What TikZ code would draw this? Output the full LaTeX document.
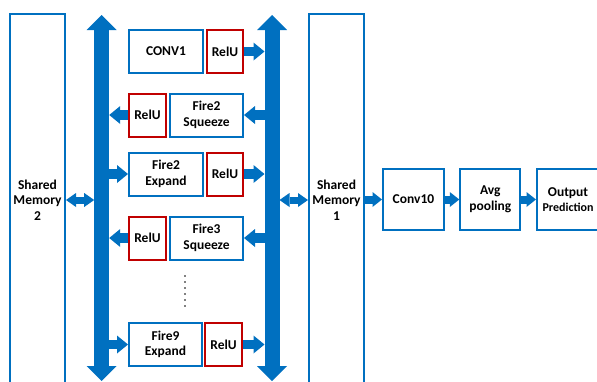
\documentclass[tikz,border=0pt]{standalone}
\usepackage{fontspec}
\setmainfont{Carlito}
\usetikzlibrary{arrows.meta}
\definecolor{myblue}{HTML}{0070C0}
\definecolor{myred}{HTML}{C00000}
\begin{document}
\begin{tikzpicture}[x=1pt,y=-1pt,
  txt/.style={font=\fontsize{13.5}{15.5}\selectfont\bfseries, align=center, text=black},
  bbox/.style={txt, draw=myblue, line width=2pt, inner sep=0pt, minimum height=43pt},
  rbox/.style={txt, draw=myred, line width=2pt, inner sep=0pt, minimum height=43pt, minimum width=36pt},
  mem/.style={txt, draw=myblue, line width=2pt, inner sep=0pt, minimum width=55pt, minimum height=372pt},
  obox/.style={txt, draw=myblue, line width=2pt, inner sep=0pt, minimum width=61pt, minimum height=61pt},
  bus/.style={myblue, line width=15pt, {Triangle[length=15pt,width=30pt,line width=0pt]}-{Triangle[length=15pt,width=30pt,line width=0pt]}},
  sarrow/.style={myblue, line width=9.5pt, -{Triangle[length=11pt,width=18pt,line width=0pt]}},
  darrow/.style={myblue, line width=7pt, {Triangle[length=10pt,width=14pt,line width=0pt]}-{Triangle[length=10pt,width=14pt,line width=0pt]}},
  harrow/.style={myblue, line width=8pt, -{Triangle[length=9.5pt,width=15pt,line width=0pt]}}
]
\useasboundingbox (0,0) rectangle (597,381);

% shared memories
\node[mem] (sm2) at (37.5,200) {Shared\\Memory\\2};
\node[mem] (sm1) at (336.5,200) {Shared\\Memory\\1};

% buses
\coordinate (lbtop) at (101.7,15);
\coordinate (lbbot) at (101.7,381);
\coordinate (rbtop) at (272,15);
\coordinate (rbbot) at (272,381);
\coordinate (lbl) at (94.2,0);
\coordinate (lbr) at (109.2,0);
\coordinate (rbl) at (264.5,0);
\coordinate (rbr) at (279.5,0);
\draw[bus] (lbtop) -- (lbbot);
\draw[bus] (rbtop) -- (rbbot);

% layer boxes
\node[bbox, minimum width=74pt] (conv1) at (166,51.5) {CONV1};
\node[rbox] (relu1) at (225,51.5) {RelU};
\node[rbox, minimum width=37pt] (relu2) at (147.5,115) {RelU};
\node[bbox, minimum width=73pt] (sq2) at (206.5,115) {Fire2\\Squeeze};
\node[bbox, minimum width=74pt] (ex2) at (166,174) {Fire2\\Expand};
\node[rbox] (relu3) at (225,174) {RelU};
\node[rbox, minimum width=37pt] (relu4) at (147.5,238) {RelU};
\node[bbox, minimum width=73pt] (sq3) at (206.5,238) {Fire3\\Squeeze};
\node[bbox, minimum width=73pt] (ex9) at (165.5,344.5) {Fire9\\Expand};
\node[rbox, minimum width=37pt] (relu5) at (223.5,344.5) {RelU};

% dots
\foreach \yy in {276,282,288,294,300,306} \fill (185,\yy) circle (0.9pt);

% output chain
\node[obox] (conv10) at (413.5,199.5) {Conv10};
\node[obox, minimum width=60pt] (avg) at (490.3,199.5) {Avg\\pooling};
\node[obox, minimum width=62pt] (out) at (568,199.5) {Output\\{\fontsize{12}{13}\selectfont Prediction}};

% small arrows
\draw[sarrow] (relu1.east) -- (relu1.east -| rbl);
\draw[sarrow] (rbl |- sq2.east) -- (sq2.east);
\draw[sarrow] (relu2.west) -- (relu2.west -| lbr);
\draw[sarrow] (lbr |- ex2.west) -- (ex2.west);
\draw[sarrow] (relu3.east) -- (relu3.east -| rbl);
\draw[sarrow] (rbl |- sq3.east) -- (sq3.east);
\draw[sarrow] (relu4.west) -- (relu4.west -| lbr);
\draw[sarrow] (lbr |- ex9.west) -- (ex9.west);
\draw[sarrow] (relu5.east) -- (relu5.east -| rbl);

% double arrows
\draw[darrow] (sm2.east) -- (sm2.east -| lbl);
\draw[darrow] (rbr |- sm1.west) -- (sm1.west);

% chain arrows
\draw[harrow] (sm1.east |- conv10.west) -- (conv10.west);
\draw[harrow] (conv10.east) -- (avg.west);
\draw[harrow] (avg.east) -- (out.west);
\end{tikzpicture}
\end{document}
